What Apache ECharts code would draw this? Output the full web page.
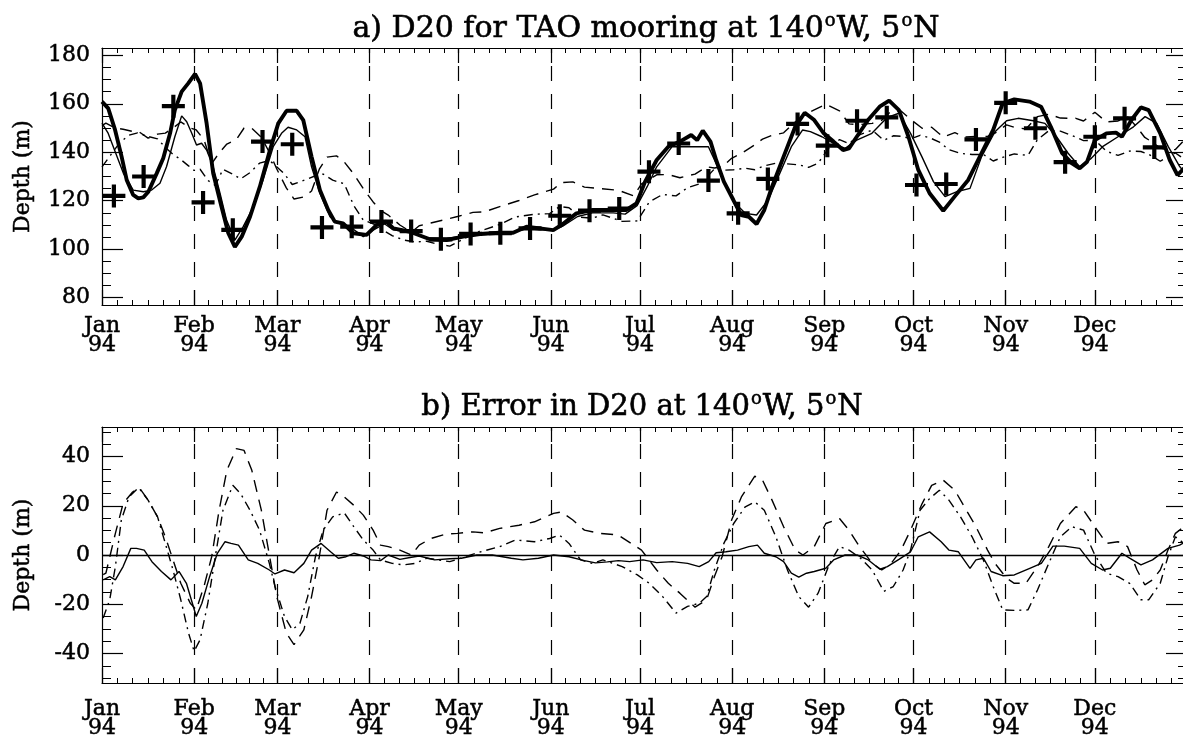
<!DOCTYPE html>
<html>
<head>
<meta charset="utf-8">
<script src="https://cdn.jsdelivr.net/npm/echarts@6/dist/echarts.min.js"></script>
<style>
  html, body { margin: 0; padding: 0; background: #ffffff; }
  #chart { width: 1183px; height: 742px; }
</style>
</head>
<body>
<div id="chart"></div>
<script>
// ---- axis labels -------------------------------------------------------
const monthNames = ['Jan','Feb','Mar','Apr','May','Jun','Jul','Aug','Sep','Oct','Nov','Dec'];
const monthStarts = [0, 31, 59, 90, 120, 151, 181, 212, 243, 273, 304, 334];
const yearLabel = '94';
const depthTicks = [80, 100, 120, 140, 160, 180];
const errorTicks = [-40, -20, 0, 20, 40];

// ---- panel a: D20 (m) against day of 1994 -------------------------------
// 10-day TAO mooring samples
const taoSamples = [
  [4,122],[14,130],[24,159],[34,119.3],[44,108],[54,144.4],[64,143.3],[74,109],[84,109.3],[94,111.4],
  [104,107.5],[114,104.1],[124,106.3],[134,106.6],[144,108.6],[154,113.8],[164,115.9],[174,116.8],[184,132],[194,143.6],
  [204,128.3],[214,114.8],[224,129],[234,151.7],[244,142.7],[254,153],[264,154.4],[274,126.5],[284,126.9],[294,145.3],
  [304,160.4],[314,149.9],[324,135.9],[334,146.4],[344,154],[354,142]
];
// daily mooring D20 (thick line)
const d20Obs = [
  [0,160.9],[2.1,158.1],[4.4,149.2],[6.6,138.2],[8.3,128.6],[10.5,122.4],[12.2,121],[13.9,121.4],[15.6,123.7],[18.4,131.3],
  [20.6,137.5],[22.9,147.8],[24.5,157.4],[26.8,165],[29,168.4],[31.3,172.3],[33,168.4],[35.2,151.9],[37.4,131.3],[40.2,117.5],
  [42.5,106.6],[44.7,101],[47,105.2],[49.8,113.4],[53.1,125.8],[56.5,140.9],[59.3,151.9],[62.1,157.1],[65.5,157.1],[67.7,153.3],
  [70.5,138.2],[73.3,124.4],[76.1,116.2],[78.3,111.4],[81.1,110.7],[84.5,106.6],[89,105.9],[92.4,110],[95.7,111.4],[98,108.6],
  [103.6,107.2],[110.3,104.1],[115.9,103.8],[121.5,105.2],[127.1,106.3],[133.8,106.8],[138.3,106.8],[142.8,109.3],[147.3,108.6],[151.8,107.9],
  [154.6,110],[159.6,114.8],[165.2,116.2],[171.9,116.2],[176.4,116.2],[179.8,118.9],[182.7,127.9],[186.6,136.8],[190.5,142.3],[194.4,144.4],
  [198.2,147.1],[200.2,145],[202.1,148.9],[204.7,144.4],[206.6,136.8],[209.2,127.9],[212.4,120.3],[215,114.1],[217.6,113.4],[220.2,110.4],
  [222.8,116.2],[225.4,125.8],[229.3,138.2],[233.2,150.5],[236.4,156.3],[239.6,153.3],[242.8,147.8],[246.1,144.4],[249.3,140.9],[251.3,141.6],
  [253.9,146.4],[257.7,153.3],[261.6,158.8],[264.8,161.3],[268.1,157.4],[271.3,146.4],[274.6,132.7],[278.4,123.1],[283,115.9],[286.8,121.7],
  [291.4,128.6],[295.9,139.6],[299.8,149.2],[303,160.2],[306.9,161.8],[312,160.9],[315.9,158.8],[319.2,150.5],[323,139.6],[326.3,135.4],
  [328.9,133.4],[331.4,136.1],[334,145],[337.9,147.8],[341.1,148.1],[343.1,146.4],[346.3,153.3],[349.5,158.5],[352.1,157.4],[356,147.8],
  [359.2,136.8],[361.8,130.6],[364,133.4]
];
// model D20, thin solid
const d20ModelA = [
  [0,152],[2,148],[4.5,140],[7.2,131.3],[10.5,124.4],[13.9,123.7],[16.7,124.4],[19.5,127.2],[21.7,134],[24.5,146.4],
  [26.8,155],[28.5,152.6],[30.2,147.8],[31.8,143],[33.5,143.7],[35.2,140.9],[37.4,134],[39.7,123.1],[41.9,112],[44.7,103.8],
  [47.5,109.3],[50.9,117.5],[54.2,128.6],[57.6,142.3],[60.4,147.8],[62.6,150.3],[65.5,149.2],[68.3,146.4],[70.5,134],[73.3,123.1],
  [76.7,113.4],[78.9,111],[83.4,109.3],[87.9,105.2],[91.2,107.9],[95,110.5],[98,108],[104,107],[110,104.5],[116,104.5],
  [122,105.5],[127,106],[134,106.5],[138,107],[143,108.5],[147,108],[152,108],[155,109.5],[160,113.5],[165,115],
  [172,115],[176,114.5],[180,118],[183.4,125.8],[186.6,134],[191.8,142.3],[195,142.3],[198.2,142.3],[204,142.3],[206.6,135.4],
  [209.9,125.8],[213.1,118.9],[216.4,114.8],[220.2,114.1],[224.1,120.3],[228,131.3],[231.9,142.3],[235.7,149.2],[238.3,148.5],[242.2,146.4],
  [246.1,143.7],[250,141.6],[253.9,145],[259,147.8],[264.2,154.4],[268.1,156.1],[272,147.8],[275.8,138.2],[279.7,127.9],[283.6,121.7],
  [287.4,123.7],[292,125.1],[295.9,138.2],[300.4,148.5],[304.3,153],[308.2,154],[313.3,153],[317.2,151.9],[321.1,146.4],[325,139.6],
  [328.9,134],[332.8,137.5],[336.6,142.3],[341.8,146.4],[347,150.5],[350.9,154.7],[354.8,151.9],[358.7,142.3],[362.6,134],[364,132]
];
// model D20, dashed
const d20ModelB = [
  [0,151],[1.3,152],[4.5,150],[7.1,149.5],[10.3,148.6],[12.5,148.4],[15.5,145.8],[18.7,147.5],[21.3,147.9],[23.9,150],
  [26.5,152.5],[29.7,150],[31.7,149.2],[34.3,145.2],[36.9,135.3],[39.4,139.7],[42,143.4],[45.2,145.2],[47.8,150],[50.4,149.9],
  [53.6,146.2],[56.2,140.2],[58.8,133.1],[62,125.3],[64.6,120.7],[67.9,121.6],[70.5,124],[73.1,133],[75.7,138],[78.9,138.5],
  [81.5,136],[84.7,131],[87.9,125],[91.2,119.5],[93.7,116],[96.3,114.1],[100.2,110],[104.1,107],[106.7,109.7],[110.6,110.8],
  [115.7,112.3],[119.6,113.5],[124.8,115.2],[128.6,115.4],[133.8,117.6],[140.3,120.1],[145.5,122.4],[151.9,124.8],[154.5,127.5],[158.4,127.8],
  [162.3,125.6],[167.5,125],[173.7,124.3],[178.9,122],[181.5,127],[186.6,130.7],[190.5,130.8],[194.4,129.5],[199.5,131],[203.4,134],
  [206,133.5],[208.6,134],[211.8,137.5],[215.1,139.5],[219.6,143.1],[222.2,145.4],[225.4,147],[229.3,148],[233.2,152.5],[235.8,155.2],
  [239.6,157.5],[243.5,159.8],[248.1,157.1],[251.3,151.7],[254.5,151.4],[259.1,151.9],[262.3,153.2],[265.5,157.1],[268.8,157],[272,153.6],
  [275.9,149.9],[279.1,150.3],[283,146.3],[286.9,148.1],[290.1,146.3],[294,146.5],[297.9,146.5],[300.4,147.9],[304.3,151.3],[306.9,150.3],
  [310.8,149.6],[314.7,154.7],[318.5,155.7],[322.4,154.1],[327.6,154],[330.2,152.9],[334,156.5],[337.9,152.5],[341.8,152.9],[345,154.7],
  [348.2,150.3],[350.8,146.1],[353.4,144.1],[356,141.7],[358.6,141],[361.1,141.1],[364,144.9]
];
// model D20, dash-dot
const d20ModelC = [
  [0,134],[3,139],[6,144],[9,147],[12,148],[15.5,146.5],[18.7,145.5],[21.3,142],[24,139],[26.5,137],
  [29,134.5],[31,132.5],[33,133],[35.6,128.4],[38.1,126.3],[40.7,133],[44,131],[46.6,129],[49.8,131.6],[53,135.5],
  [56.3,136.6],[58.2,134.7],[61.4,131],[64,126.7],[66.6,127.8],[69.2,129],[71.8,130.3],[74.4,131],[77.6,128.5],[81.5,127],
  [84.7,118],[87.9,112],[91.2,110.5],[93.7,108.5],[97.6,105.6],[101.5,103.8],[105.4,103],[109.3,103.3],[113.2,102],[117,101.3],
  [122.2,104.6],[127.4,107.6],[133.8,110.2],[139,113.3],[145.5,114.4],[150.6,114.7],[153.9,117.6],[157.1,117.1],[161,113.2],[164.9,112.8],
  [168.5,114.2],[175,111.5],[180.1,111.7],[184.1,119.5],[188.6,122.6],[193.1,122],[197,125.4],[200.9,126.9],[203.4,129.7],[206,133.1],
  [209.2,132.6],[212.5,132.8],[216.4,133.4],[219.6,132.8],[222.8,134.4],[226.7,135.5],[230.6,135.2],[234.4,134.8],[237.7,133.8],[240.9,135.5],
  [244.8,142.2],[248.1,145.2],[251.3,143.6],[255.2,147.4],[259.1,149.1],[263,144.9],[266.2,146.8],[269.5,146.5],[272,145.5],[275.2,147],
  [278.4,146],[281.7,144.2],[284.9,141.1],[288.8,139.5],[292.7,139.1],[296.5,139.1],[299.8,136.4],[303,137.9],[306.9,139.3],[311.5,138.7],
  [314.7,145.2],[318.5,148.9],[322.4,148.7],[326.3,146.9],[330.2,144.8],[334,145],[337.9,140.4],[341.8,138.7],[345.7,140.5],[349.5,140.3],
  [352.1,139.2],[356,136.3],[358.6,138.3],[361.1,139.7],[364,137.2]
];

// ---- panel b: model minus mooring D20 (m) -------------------------------
const errModelA = [
  [0.4,-10.1],[2.6,-8.8],[4.5,-10.1],[7.1,-4.7],[9.7,2.7],[11.6,2.7],[14.2,2],[16.8,-2.7],[20,-6.7],[23.2,-10.1],
  [25.9,-6.7],[28.4,-11.5],[30.4,-19.6],[31.7,-25],[33.6,-19.6],[36.2,-8.8],[38.8,0.7],[41.4,5.4],[43.4,4.7],[45.9,4],
  [49.2,-2],[52.4,-3.4],[56.3,-6.1],[58.2,-7.7],[61.4,-6.1],[64.6,-7.2],[67.9,-3.4],[70.5,2],[73.7,4.7],[76.9,1.3],
  [79.5,-1.3],[82.1,-0.7],[84.7,0.7],[87.9,-0.4],[90.5,-2],[93.7,-2.3],[96.3,0],[100.2,-1.8],[104.1,-0.9],[106.7,-0.4],
  [111.9,-2],[117,-1.5],[120.9,-1.3],[126.1,0],[131.3,0],[137.7,-1.3],[141.6,-2],[146.8,-1.3],[151.9,0],[157.1,-0.7],
  [162.3,-2.3],[166,-3.2],[170,-2.8],[173.7,-2.3],[177.5,-2.7],[182,-2],[186.6,-3.1],[191.8,-2.7],[197,-3.4],[200.9,-4.7],
  [204.1,-2.7],[206.6,0.9],[209.9,1.3],[213.8,2],[217.6,3.4],[220.5,4],[222.8,0.7],[226.7,-0.7],[229.3,-2.7],[231.9,-7.4],
  [234.4,-9],[237,-7.4],[239.6,-6.7],[243.5,-5.4],[246.1,-2],[250,0],[254,0],[257.8,-2],[261.7,-5.8],[264.2,-4.7],
  [268.1,-1.8],[272,1.3],[274.6,7.4],[278.4,9.4],[282.3,5.4],[284.9,2],[288.1,1.3],[292,-5.4],[294,-2],[296.5,-1.3],
  [299.1,-6.7],[303,-8.4],[306.9,-8.1],[312.1,-5.4],[316,-3.4],[319.9,3.6],[323.7,3.6],[328.9,2.7],[332.8,-3.4],[336.6,-6.1],
  [339.2,-5.4],[343.1,0.7],[345.7,-1.3],[349.5,-4],[353.4,-2],[358.6,2.7],[362.5,4],[364,5]
];
const errModelB = [
  [0.4,-8],[1.3,-7.4],[4.5,8.8],[7.1,20.9],[10.3,25.6],[12.5,27.4],[15.5,22.3],[18.7,15.5],[21.3,7.4],[23.9,-2],
  [26.5,-11.5],[29.7,-19.6],[31.7,-22.3],[34.3,-12.8],[36.9,-0.7],[39.4,18.2],[42,34.4],[45.2,43.2],[47.8,42.5],[50.4,34.4],
  [53.6,18.2],[56.2,0.7],[58.8,-16.9],[62,-31.7],[64.6,-36.4],[67.9,-30.4],[70.5,-16.9],[73.1,-0.7],[75.7,18.2],[78.9,25.6],
  [81.5,23.6],[84.7,20.2],[87.9,16.2],[91.2,10.1],[93.7,4],[96.3,3.4],[100.2,2],[104.1,0],[106.7,4],[110.6,6.7],
  [115.7,8.5],[119.6,8.8],[124.8,9.4],[128.6,9],[133.8,10.8],[140.3,12.1],[145.5,13.5],[151.9,16.9],[154.5,17.5],[158.4,14.2],
  [162.3,10.1],[167.5,8.8],[173.7,8.1],[178.9,4],[181.5,2],[186.6,-6.1],[190.5,-11.5],[194.4,-15.5],[199.5,-21.2],[203.4,-18.2],
  [206,-8.8],[208.6,-0.7],[211.8,14.2],[215.1,23.6],[219.6,32],[222.2,30.4],[225.4,22.3],[229.3,11.5],[233.2,2],[235.8,0],
  [239.6,3.4],[243.5,12.8],[248.1,14.8],[251.3,10.1],[254.5,4],[259.1,-3.4],[262.3,-6.1],[265.5,-3.4],[268.8,2],[272,10.1],
  [275.9,20.9],[279.1,28.3],[283,30.4],[286.9,26.3],[290.1,19.6],[294,11.5],[297.9,2],[300.4,-3.4],[304.3,-9.4],[306.9,-11.5],
  [310.8,-11.5],[314.7,-4.7],[318.5,3.4],[322.4,12.8],[327.6,19.6],[330.2,18.2],[334,11.5],[337.9,4.7],[341.8,5.4],[345,3.4],
  [348.2,-6.1],[350.8,-12.1],[353.4,-10.1],[356,-6.1],[358.6,2],[361.1,8.8],[364,11.5]
];
const errModelC = [
  [0.4,-25.6],[2.6,-18.2],[4.5,-4.7],[6.5,14.2],[9.1,23.6],[12.3,27.4],[15.5,22.3],[18.7,15.5],[21.3,4.7],[23.9,-6.1],
  [26.5,-18.2],[29.1,-31.7],[31,-39.1],[33,-34.4],[35.6,-19.6],[38.1,-0.7],[40.7,18.2],[44,28.3],[46.6,25],[49.8,18.2],
  [53,10.1],[56.3,-3.4],[58.2,-12.8],[61.4,-25],[64,-30.4],[66.6,-27.7],[69.2,-16.9],[71.8,-0.7],[74.4,10.1],[77.6,15.5],
  [81.5,17.1],[84.7,11.5],[87.9,6.1],[91.2,2],[93.7,-2],[97.6,-3.4],[101.5,-4],[105.4,-3.4],[109.3,-1.3],[113.2,-2],
  [117,-2.7],[122.2,-0.7],[127.4,1.3],[133.8,3.4],[139,6.1],[145.5,5.4],[150.6,6.7],[153.9,8.1],[157.1,4.7],[161,-2],
  [164.9,-3.4],[168.5,-2],[175,-4.7],[180.1,-8.1],[184.1,-11.5],[188.6,-16.9],[193.1,-23.6],[197,-20.9],[200.9,-19.6],[203.4,-16.9],
  [206,-6.1],[209.2,4.7],[212.5,12.8],[216.4,19.6],[219.6,21.6],[222.8,18.2],[226.7,7.4],[230.6,-6.1],[234.4,-16.9],[237.7,-21.2],
  [240.9,-15.5],[244.8,-3.4],[248.1,3.4],[251.3,2],[255.2,-1.3],[259.1,-6.1],[263,-14.8],[266.2,-12.8],[269.5,-6.1],[272,2],
  [275.2,18.2],[278.4,22.9],[281.7,26.3],[284.9,22.3],[288.8,15.5],[292.7,7.4],[296.5,-2],[299.8,-12.8],[303,-22.3],[306.9,-22.5],
  [311.5,-22.3],[314.7,-14.2],[318.5,-3.4],[322.4,7.4],[326.3,11.5],[330.2,10.1],[334,0],[337.9,-7.4],[341.8,-8.8],[345.7,-11.5],
  [349.5,-18.2],[352.1,-18.2],[356,-11.5],[358.6,-0.7],[361.1,7.4],[364,4.7]
];

// ---- layout & styling ---------------------------------------------------
const FONT = 'DejaVu Serif';
const INK = '#000000';
const DAYS_IN_YEAR = 365;
const DASHED = [12, 8];
const DASH_DOT = [9, 5, 2, 5];

// minor day ticks: each month split into six
const monthEnds = monthStarts.slice(1).concat([DAYS_IN_YEAR]);
const minorDays = [];
monthStarts.forEach((s, i) => {
  const len = monthEnds[i] - s;
  for (let k = 1; k < 6; k++) minorDays.push(s + len * k / 6);
});
function stepValues(lo, hi, step) {
  const out = [];
  for (let v = Math.ceil(lo / step) * step; v <= hi; v += step) out.push(v);
  return out;
}

const frameLine = { show: true, onZero: false, lineStyle: { color: INK, width: 1.2 } };
const hiddenLine = { show: false, onZero: false };
const labelText = { color: INK, fontFamily: FONT, fontSize: 22, textBorderColor: INK, textBorderWidth: 0.5 };

function xAxesFor(gridIndex, labelMargin) {
  const base = { type: 'value', gridIndex, min: 0, max: DAYS_IN_YEAR, splitLine: { show: false } };
  return [
    Object.assign({}, base, {
      position: 'bottom', axisLine: frameLine,
      axisTick: { show: true, inside: true, length: 15, customValues: monthStarts, lineStyle: { color: INK, width: 1.2 } },
      axisLabel: Object.assign({
        show: true, customValues: monthStarts, margin: labelMargin, lineHeight: 19, align: 'center',
        formatter: v => monthNames[monthStarts.indexOf(v)] + '\n' + yearLabel
      }, labelText)
    }),
    Object.assign({}, base, {
      position: 'bottom', axisLine: hiddenLine,
      axisTick: { show: true, inside: true, length: 5, customValues: minorDays, lineStyle: { color: INK, width: 1 } },
      axisLabel: { show: false }
    }),
    Object.assign({}, base, {
      position: 'top', axisLine: frameLine,
      axisTick: { show: true, inside: true, length: 15, customValues: monthStarts, lineStyle: { color: INK, width: 1.2 } },
      axisLabel: { show: false }
    }),
    Object.assign({}, base, {
      position: 'top', axisLine: hiddenLine,
      axisTick: { show: true, inside: true, length: 5, customValues: minorDays, lineStyle: { color: INK, width: 1 } },
      axisLabel: { show: false }
    })
  ];
}

function yAxesFor(gridIndex, min, max, majors) {
  const base = { type: 'value', gridIndex, min, max, splitLine: { show: false } };
  const minors = stepValues(min, max, 5);
  return [
    Object.assign({}, base, {
      position: 'left', axisLine: frameLine,
      name: 'Depth (m)', nameLocation: 'middle', nameGap: 68, nameRotate: 90,
      nameTextStyle: labelText,
      axisTick: { show: true, inside: true, length: 21, customValues: majors, lineStyle: { color: INK, width: 1.2 } },
      axisLabel: Object.assign({ show: true, customValues: majors, margin: 12 }, labelText)
    }),
    Object.assign({}, base, {
      position: 'left', axisLine: hiddenLine,
      axisTick: { show: true, inside: true, length: 9, customValues: minors, lineStyle: { color: INK, width: 1 } },
      axisLabel: { show: false }
    }),
    Object.assign({}, base, {
      position: 'right', axisLine: frameLine,
      axisTick: { show: true, inside: true, length: 21, customValues: majors, lineStyle: { color: INK, width: 1.2 } },
      axisLabel: { show: false }
    }),
    Object.assign({}, base, {
      position: 'right', axisLine: hiddenLine,
      axisTick: { show: true, inside: true, length: 9, customValues: minors, lineStyle: { color: INK, width: 1 } },
      axisLabel: { show: false }
    })
  ];
}

function curve(data, xi, yi, width, dash, z) {
  return {
    type: 'line', data, xAxisIndex: xi, yAxisIndex: yi, showSymbol: false, symbol: 'none',
    smooth: false, silent: true, z,
    lineStyle: { color: INK, width, type: dash || 'solid', cap: 'butt', opacity: 1 }
  };
}

const monthLines = {
  silent: true, symbol: 'none', animation: false,
  label: { show: false },
  lineStyle: { color: INK, width: 1.2, type: [15, 13] },
  data: monthStarts.slice(1).map(d => ({ xAxis: d }))
};

const PLUS = 'path://M9,0H13V9H22V13H13V22H9V13H0V9H9Z';
// titles: the degree mark is drawn as a raised small "o"
function titleStyle(size) {
  return {
    fontFamily: FONT, fontSize: size, fontWeight: 'normal', color: INK,
    textBorderColor: INK, textBorderWidth: 0.6, lineHeight: 34,
    rich: {
      deg: { fontFamily: FONT, fontSize: 18, color: INK, textBorderColor: INK, textBorderWidth: 0.5,
             verticalAlign: 'top', lineHeight: 34, padding: [0, 1, 0, 1] }
    }
  };
}

const option = {
  animation: false,
  backgroundColor: '#ffffff',
  title: [
    { text: 'a) D20 for TAO mooring at 140{deg|o}W, 5{deg|o}N', left: 641, top: 7, textAlign: 'center', textStyle: titleStyle(30) },
    { text: 'b) Error in D20 at 140{deg|o}W, 5{deg|o}N', left: 637, top: 385, textAlign: 'center', textStyle: titleStyle(29) }
  ],
  grid: [
    { left: 102, top: 48, width: 1085, height: 257, containLabel: false, outerBoundsMode: 'none' },
    { left: 102, top: 427, width: 1085, height: 256, containLabel: false, outerBoundsMode: 'none' }
  ],
  xAxis: xAxesFor(0, 12).concat(xAxesFor(1, 17)),
  yAxis: yAxesFor(0, 77, 183, depthTicks).concat(yAxesFor(1, -52, 52, errorTicks)),
  series: [
    // panel a
    Object.assign(curve(d20ModelB, 0, 0, 1.4, DASHED, 2), { markLine: monthLines }),
    curve(d20ModelC, 0, 0, 1.4, DASH_DOT, 2),
    curve(d20ModelA, 0, 0, 1.4, 'solid', 3),
    curve(d20Obs, 0, 0, 3.9, 'solid', 4),
    {
      type: 'scatter', data: taoSamples, xAxisIndex: 0, yAxisIndex: 0, silent: true, z: 5,
      symbol: PLUS, symbolSize: 23, itemStyle: { color: INK, opacity: 1 }
    },
    // panel b
    Object.assign(curve(errModelB, 4, 4, 1.4, DASHED, 2), { markLine: monthLines }),
    Object.assign(curve(errModelC, 4, 4, 1.4, DASH_DOT, 2), {
      markLine: {
        silent: true, symbol: 'none', label: { show: false },
        lineStyle: { color: INK, width: 1.4, type: 'solid' },
        data: [{ yAxis: 0 }]
      }
    }),
    curve(errModelA, 4, 4, 1.4, 'solid', 3)
  ]
};

const chart = echarts.init(document.getElementById('chart'), null, { renderer: 'canvas' });
chart.setOption(option);
</script>
</body>
</html>
